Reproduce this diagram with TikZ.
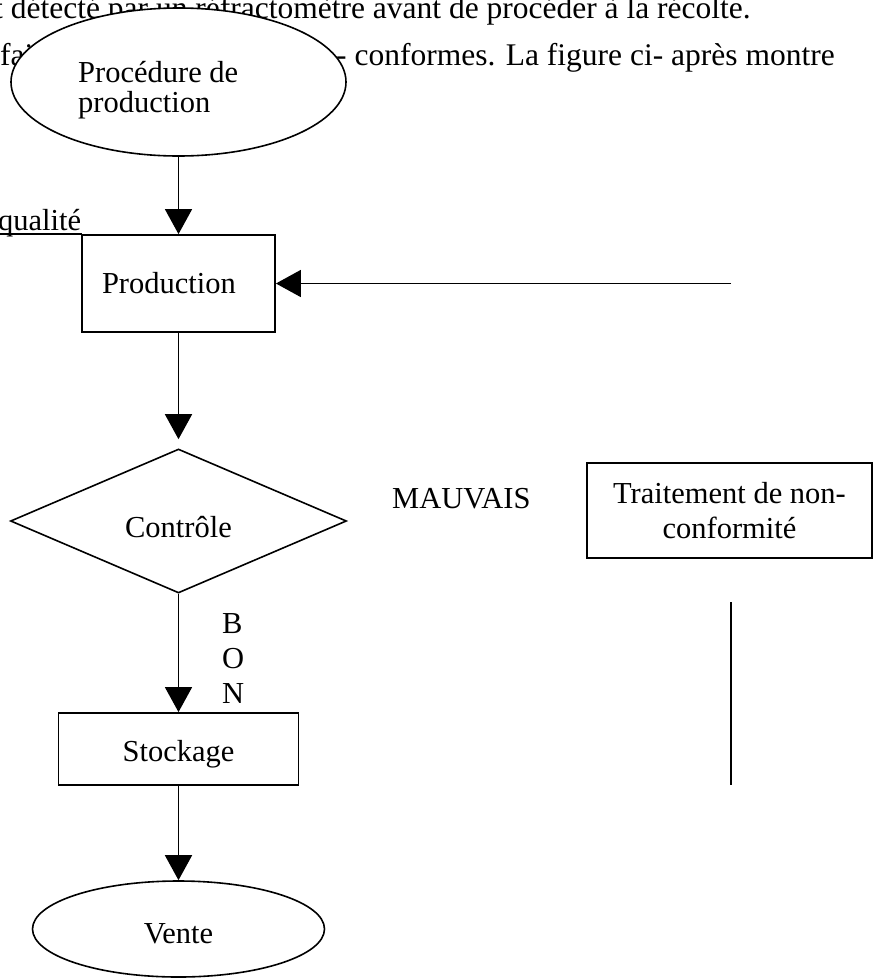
\documentclass[tikz,border=0pt]{standalone}
\usepackage{fontspec}
\setmainfont{Liberation Serif}
\usetikzlibrary{shapes.geometric,arrows.meta}
\begin{document}
\begin{tikzpicture}[x=1pt,y=-1pt,
  font=\fontsize{30.5}{35}\selectfont,
  txt/.style={inner sep=0pt, anchor=base west},
  bodytxt/.style={txt, font=\fontsize{31.5}{36}\selectfont},
  boxnode/.style={draw, rectangle, line width=1.8pt, inner sep=0pt},
  ovalnode/.style={draw, ellipse, line width=1.6pt, inner sep=0pt},
  conn/.style={line width=1.6pt, -{Triangle[width=27pt,length=25pt]}},
  plain/.style={line width=1.6pt}]
\useasboundingbox (0,0) rectangle (874,978);
\clip (0,0) rectangle (874,978);
% running text of the page
\node[bodytxt] (l1) at (-6,18) {t détecté par un réfractomètre avant de procéder à la récolte.};
\node[bodytxt] (l2a) at (0,65) {fai};
\node[bodytxt] (l2b) at (336,65) {- conformes. La figure ci- après montre};
% start ellipse
\node[ovalnode, fill=white, minimum width=335, minimum height=148] (proc) at (178.5,82) {};
\node[txt] (proct1) at (78,82) {Procédure de};
\node[txt] (proct2) at (78,112) {production};
% underlined word
\node[txt] (qual) at (-2,230) {qualité};
\coordinate (ulA) at (0,234);
\coordinate (ulB) at (82,234);
\draw[plain] (ulA) -- (ulB);
% production
\node[boxnode, minimum width=193, minimum height=97, text width=153, align=left, inner xsep=20pt] (prod) at (178.5,283.5) {Production};
\draw[conn] (proc.south) -- (prod.north);
\coordinate (rin) at (731,283.5);
\draw[conn] (rin) -- (prod.east);
% control
\node[draw, diamond, line width=1.6pt, inner sep=0pt, aspect=2.33, minimum width=336, minimum height=144, text height=32pt, text depth=0pt] (ctrl) at (178.5,521) {Contrôle};
\draw[conn, shorten >=9pt] (prod.south) -- (ctrl.north);
\node[txt] (mauv) at (392,508) {MAUVAIS};
\node[boxnode, minimum width=285, minimum height=95, align=center] (trait) at (729.5,510.5) {Traitement de non-\\conformité};
\node[anchor=north west, align=left, inner sep=0pt] (bon) at (222,613) {B\\O\\N};
% storage and sale
\node[boxnode, minimum width=240, minimum height=72, text height=31pt, text depth=7pt] (stock) at (178.5,749) {Stockage};
\draw[conn] (ctrl.south) -- (stock.north);
\node[ovalnode, minimum width=292, minimum height=96, text height=28pt, text depth=0pt] (vente) at (178.5,929) {Vente};
\draw[conn] (stock.south) -- (vente.north);
\coordinate (vA) at (731,602);
\coordinate (vB) at (731,785);
\draw[plain] (vA) -- (vB);
\end{tikzpicture}
\end{document}
